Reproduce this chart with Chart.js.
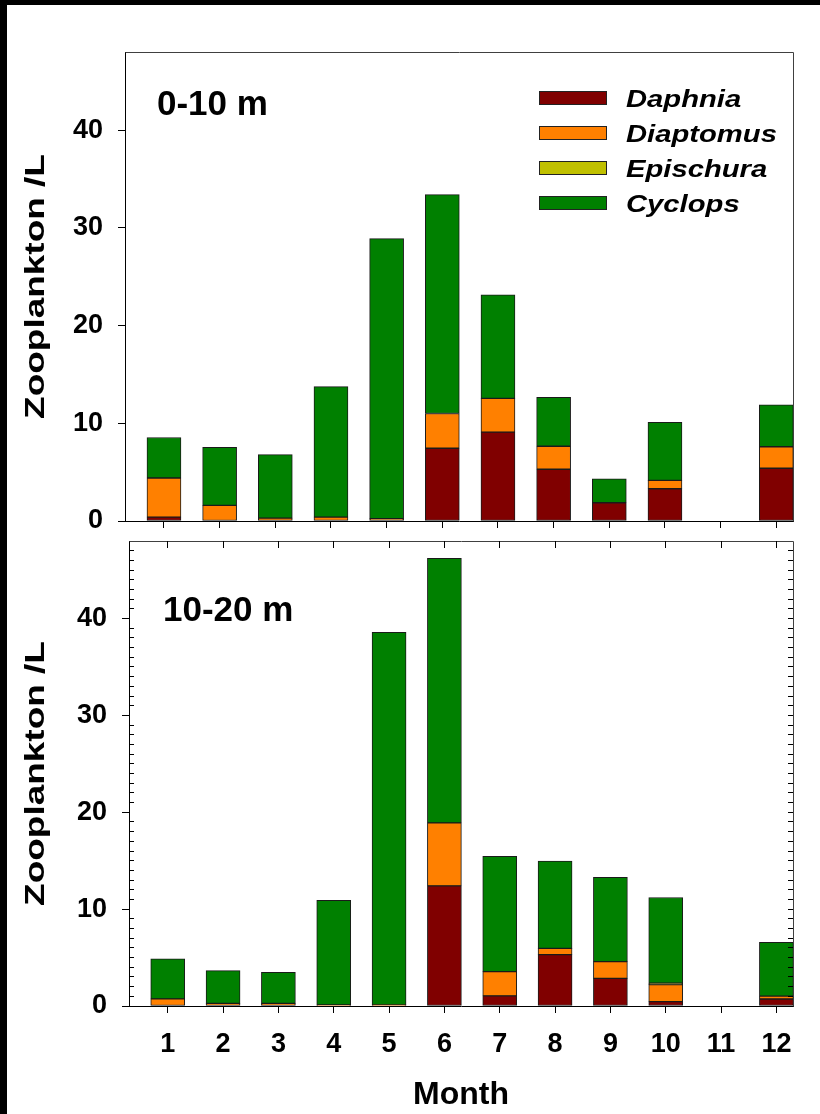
<!DOCTYPE html>
<html>
<head>
<meta charset="utf-8">
<title>Zooplankton by month</title>
<script src="https://cdn.jsdelivr.net/npm/chart.js@4.4.1/dist/chart.umd.min.js"></script>
<style>
  body { margin: 0; background: #fff; }
  #page { position: relative; width: 820px; height: 1114px; background: #fff; overflow: hidden; }
  canvas { position: absolute; left: 0; }
  #topChart { top: 0; }
  #bottomChart { top: 530px; }
  #edgeLeft { position: absolute; left: 0; top: 0; width: 7px; height: 1114px; background: #000; }
  #edgeTop { position: absolute; left: 0; top: 0; width: 820px; height: 5px; background: #000; }
</style>
</head>
<body>
<div id="page">
  <canvas id="topChart" width="820" height="545" style="width:820px;height:545px"></canvas>
  <canvas id="bottomChart" width="820" height="584" style="width:820px;height:584px"></canvas>
  <div id="edgeLeft"></div>
  <div id="edgeTop"></div>
</div>
<script>
const months = [1, 2, 3, 4, 5, 6, 7, 8, 9, 10, 11, 12];
const speciesNames = ['Daphnia', 'Diaptomus', 'Epischura', 'Cyclops'];
const yTickValues = [0, 10, 20, 30, 40];

// 0-10 m
const daphniaShallow   = [0.4, 0, 0, 0, 0, 7.45, 9.1, 5.3, 1.87, 3.3, 0, 5.4];
const diaptomusShallow = [4.0, 1.6, 0.3, 0.4, 0.25, 3.55, 3.45, 2.35, 0, 0.85, 0, 2.2];
const epischuraShallow = [0, 0, 0, 0, 0, 0, 0, 0, 0, 0, 0, 0];
const cyclopsShallow   = [4.15, 5.95, 6.5, 13.35, 28.65, 22.4, 10.6, 5.0, 2.45, 5.95, 0, 4.3];

// 10-20 m
const daphniaDeep   = [0, 0, 0, 0, 0, 12.4, 1.05, 5.3, 2.85, 0.45, 0, 0.72];
const diaptomusDeep = [0.73, 0.27, 0.27, 0.1, 0.12, 6.5, 2.5, 0.65, 1.73, 1.75, 0, 0.3];
const epischuraDeep = [0, 0, 0, 0, 0, 0, 0, 0, 0, 0.15, 0, 0];
const cyclopsDeep   = [4.15, 3.38, 3.2, 10.8, 38.45, 27.3, 11.9, 9.0, 8.7, 8.85, 0, 5.55];

const FONT = 'Arial, "Liberation Sans", sans-serif';
const colors = { Daphnia: '#800000', Diaptomus: '#ff8000', Epischura: '#c0c000', Cyclops: '#008000' };

// one stacked dataset per species
function stackDatasets(series) {
  return speciesNames.map((name, i) => ({
    label: name,
    data: months.map((m, j) => ({ x: m, y: series[i][j] })),
    backgroundColor: colors[name],
    borderColor: '#1a1a1a',
    borderWidth: 1,
    borderSkipped: false,
    barThickness: 34,
    clip: 0
  }));
}

// frame, extra tick marks, panel label, y title and legend
function decorPlugin(cfg) {
  return {
    id: 'decor',
    afterDraw(chart) {
      const { ctx, chartArea: a, scales: { x, y } } = chart;
      const px = v => Math.round(v - 0.5) + 0.5;
      ctx.save();
      ctx.lineWidth = 1;

      ctx.strokeStyle = '#404040';
      ctx.beginPath();
      ctx.moveTo(px(a.left), px(a.top));
      ctx.lineTo(px(a.right), px(a.top));
      ctx.lineTo(px(a.right), px(a.bottom));
      ctx.stroke();

      if (cfg.minorTicks) {
        ctx.strokeStyle = '#000';
        ctx.beginPath();
        for (let v = 1; v < y.max; v++) {
          const yy = px(y.getPixelForValue(v));
          if (v % 10) { ctx.moveTo(a.left, yy); ctx.lineTo(a.left + 5, yy); }
          ctx.moveTo(a.right, yy); ctx.lineTo(a.right - 5, yy);
        }
        months.forEach(m => {
          const xx = px(x.getPixelForValue(m));
          ctx.moveTo(xx, a.top); ctx.lineTo(xx, a.top + 7);
        });
        ctx.stroke();
      }

      ctx.fillStyle = '#000';
      ctx.font = `bold 35px ${FONT}`;
      ctx.textAlign = 'left';
      ctx.textBaseline = 'alphabetic';
      ctx.fillText(cfg.panel, a.left + cfg.panelDx, a.top + cfg.panelDy);

      ctx.save();
      ctx.translate(36, (a.top + a.bottom) / 2);
      ctx.rotate(-Math.PI / 2);
      ctx.scale(1.32, 1);
      ctx.font = `bold 28px ${FONT}`;
      ctx.textAlign = 'center';
      ctx.textBaseline = 'middle';
      ctx.fillText('Zooplankton /L', 0, 0);
      ctx.restore();

      if (cfg.legend) {
        chart.data.datasets.forEach((ds, i) => {
          const cy = a.top + 45.5 + i * 35.3;
          const sx = a.left + 414;
          const sy = Math.round(cy - 7);
          ctx.fillStyle = ds.backgroundColor;
          ctx.fillRect(sx, sy, 68, 14);
          ctx.strokeStyle = '#222';
          ctx.strokeRect(sx + 0.5, sy + 0.5, 67, 13);
          ctx.save();
          ctx.translate(a.left + 501, cy + 9);
          ctx.scale(1.27, 1);
          ctx.fillStyle = '#000';
          ctx.font = `italic bold 23px ${FONT}`;
          ctx.textAlign = 'left';
          ctx.textBaseline = 'alphabetic';
          ctx.fillText(ds.label, 0, 0);
          ctx.restore();
        });
      }
      ctx.restore();
    }
  };
}

function buildChart(id, series, cfg) {
  const tickFont = { family: FONT, size: 27, weight: 'bold' };
  return new Chart(document.getElementById(id), {
    type: 'bar',
    data: { datasets: stackDatasets(series) },
    options: {
      responsive: false,
      animation: false,
      devicePixelRatio: 1,
      layout: { padding: { top: cfg.top, right: 27, bottom: 0, left: 0 } },
      plugins: { legend: { display: false }, tooltip: { enabled: false } },
      scales: {
        x: {
          type: 'linear',
          stacked: true,
          min: 0.3,
          max: 12.3,
          offset: false,
          afterBuildTicks: s => { s.ticks = months.map(v => ({ value: v })); },
          afterFit: s => { s.height = cfg.xHeight; s.paddingLeft = 0; s.paddingRight = 0; },
          grid: { display: true, drawOnChartArea: false, drawTicks: true, tickLength: 7, color: '#000', offset: false },
          border: { display: true, color: '#000', width: 1 },
          ticks: { display: cfg.xLabels, autoSkip: false, maxRotation: 0, padding: 15, color: '#000', font: tickFont },
          title: {
            display: cfg.xLabels,
            text: 'Month',
            color: '#000',
            font: { family: FONT, size: 32, weight: 'bold' },
            padding: 0
          }
        },
        y: {
          stacked: true,
          min: 0,
          max: 48,
          afterBuildTicks: s => { s.ticks = yTickValues.map(v => ({ value: v })); },
          afterFit: s => { s.width = cfg.yWidth; s.paddingTop = 0; s.paddingBottom = 0; },
          grid: { drawOnChartArea: false, drawTicks: true, tickLength: 7, color: '#000' },
          border: { display: true, color: '#000', width: 1 },
          ticks: { padding: 15, color: '#000', font: tickFont }
        }
      }
    },
    plugins: [decorPlugin(cfg)]
  });
}

buildChart('topChart',
  [daphniaShallow, diaptomusShallow, epischuraShallow, cyclopsShallow],
  { top: 52, xHeight: 24, yWidth: 125, xLabels: false, minorTicks: false, legend: true,
    panel: '0-10 m', panelDx: 32, panelDy: 63 });

buildChart('bottomChart',
  [daphniaDeep, diaptomusDeep, epischuraDeep, cyclopsDeep],
  { top: 11, xHeight: 108, yWidth: 129, xLabels: true, minorTicks: true, legend: false,
    panel: '10-20 m', panelDx: 34, panelDy: 80 });
</script>
</body>
</html>
